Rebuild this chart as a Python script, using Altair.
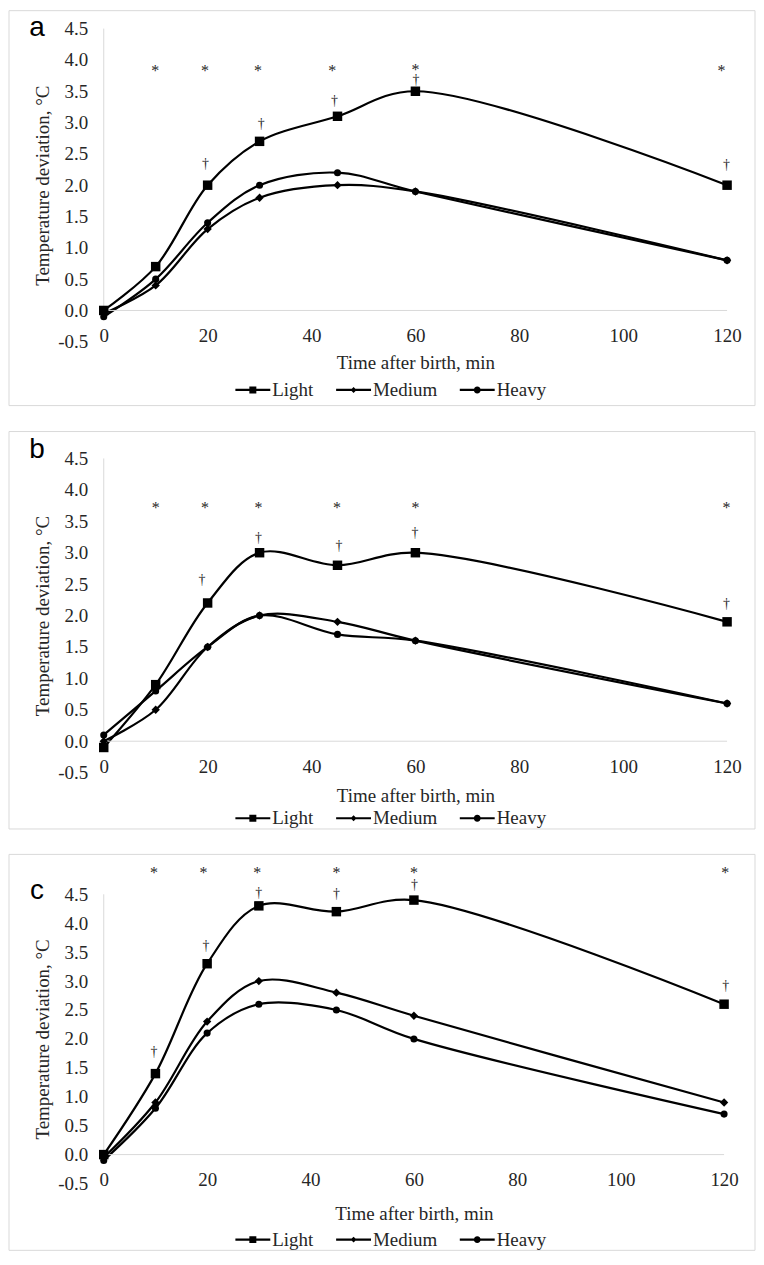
import altair as alt
import pandas as pd

# ---------------- data ----------------
times = [0, 10, 20, 30, 45, 60, 120]
groups = ["Light", "Medium", "Heavy"]

a_light = [0.0, 0.7, 2.0, 2.7, 3.1, 3.5, 2.0]
a_medium = [-0.05, 0.4, 1.3, 1.8, 2.0, 1.9, 0.8]
a_heavy = [-0.1, 0.5, 1.4, 2.0, 2.2, 1.9, 0.8]

b_light = [-0.1, 0.9, 2.2, 3.0, 2.8, 3.0, 1.9]
b_medium = [0.0, 0.5, 1.5, 2.0, 1.9, 1.6, 0.6]
b_heavy = [0.1, 0.8, 1.5, 2.0, 1.7, 1.6, 0.6]

c_light = [0.0, 1.4, 3.3, 4.3, 4.2, 4.4, 2.6]
c_medium = [-0.05, 0.9, 2.3, 3.0, 2.8, 2.4, 0.9]
c_heavy = [-0.1, 0.8, 2.1, 2.6, 2.5, 2.0, 0.7]

# significance marks (* and †): time and height
a_star_t = [9.9, 19.5, 29.7, 44.0, 60.0, 118.9]
a_star_v = [3.88, 3.88, 3.88, 3.88, 3.90, 3.88]
a_dag_t = [19.6, 30.3, 44.4, 60.1, 119.9]
a_dag_v = [2.34, 2.97, 3.34, 3.68, 2.32]

b_star_t = [10.0, 19.5, 29.8, 44.9, 60.0, 119.9]
b_star_v = [3.77, 3.77, 3.77, 3.77, 3.77, 3.77]
b_dag_t = [18.9, 29.8, 45.3, 59.9, 119.9]
b_dag_v = [2.56, 3.24, 3.10, 3.31, 2.19]

c_star_t = [9.7, 19.3, 29.7, 45.0, 60.0, 120.2]
c_star_v = [4.93, 4.93, 4.93, 4.93, 4.93, 4.93]
c_dag_t = [9.7, 19.8, 30.0, 45.0, 60.1, 120.3]
c_dag_v = [1.78, 3.61, 4.53, 4.50, 4.66, 2.92]

x_ticks = [0, 20, 40, 60, 80, 100, 120]
y_ticks = [-0.5, 0.0, 0.5, 1.0, 1.5, 2.0, 2.5, 3.0, 3.5, 4.0, 4.5]
x_domain = [0, 120]
y_domain = [-0.5, 4.5]

# ---------------- style ----------------
SERIF = "Liberation Serif"
SANS = "Liberation Sans"
TXT = "#262626"
GRID = "#d9d9d9"
FS = 19

marker_shapes = ["square", "diamond", "circle"]
marker_sizes = [90, 50, 85]
# legend symbols: a line segment with the marker on it
bar = "M-1.9,-0.21H5.1V0.21H-1.9Z"
legend_paths = [
    bar + "M0.9,-0.7H2.3V0.7H0.9Z",
    bar + "M1.6,-0.6L2.2,0L1.6,0.6L1.0,0Z",
    bar + "M0.9,0A0.7,0.7,0,1,1,2.3,0A0.7,0.7,0,1,1,0.9,0Z",
]


def panel(letter, light, medium, heavy, st_t, st_v, dg_t, dg_v, g):
    W, H = g["W"], g["H"]
    rows = []
    for name, vals in zip(groups, [light, medium, heavy]):
        for t, v in zip(times, vals):
            rows.append({"time": t, "value": v, "group": name})
    df = pd.DataFrame(rows)
    stars = pd.DataFrame({"time": st_t, "value": st_v})
    daggers = pd.DataFrame({"time": dg_t, "value": dg_v})
    one = pd.DataFrame({"k": [0]})

    xs = alt.Scale(domain=x_domain, nice=False, zero=False)
    ys = alt.Scale(domain=y_domain, nice=False, zero=False)

    xaxis = alt.Axis(
        values=x_ticks, title="Time after birth, min", offset=-H / 10.0,
        domain=False, ticks=False, grid=False, labelFlush=False,
        labelFont=SERIF, labelFontSize=FS, labelColor=TXT, labelPadding=16,
        titleFont=SERIF, titleFontSize=FS, titleFontWeight="normal",
        titleColor=TXT, titlePadding=g["tpad"],
    )
    yaxis = alt.Axis(
        values=y_ticks, title="Temperature deviation, °C",
        labelExpr="datum.value < 0 ? '-' + format(-datum.value, '.1f') : format(datum.value, '.1f')",
        domain=False, ticks=False, grid=False, labelFlush=False,
        labelFont=SERIF, labelFontSize=FS, labelColor=TXT, labelPadding=16,
        titleFont=SERIF, titleFontSize=FS, titleFontWeight="normal",
        titleColor=TXT, titlePadding=5,
    )

    def X(field):
        return alt.X(field, scale=xs, axis=xaxis)

    def Y(field):
        return alt.Y(field, scale=ys, axis=yaxis)

    frame = alt.Chart(one).mark_rect(
        fill="transparent", stroke=GRID, strokeWidth=1
    ).encode(
        x=alt.value(-95), x2=alt.value(g["fx2"]),
        y=alt.value(g["fy"]), y2=alt.value(g["fy2"]),
    )

    lines = alt.Chart(df).mark_line(
        interpolate="catmull-rom", color="black", strokeWidth=2.2
    ).encode(x=X("time:Q"), y=Y("value:Q"), detail="group:N")

    hline = alt.Chart(one).mark_rule(color=GRID, strokeWidth=1).encode(
        x=alt.XDatum(x_domain[0], scale=xs, axis=xaxis),
        x2=alt.X2Datum(x_domain[1]),
        y=alt.YDatum(0, scale=ys, axis=yaxis),
    )
    vline = alt.Chart(one).mark_rule(color=GRID, strokeWidth=1).encode(
        x=alt.XDatum(0, scale=xs, axis=xaxis),
        y=alt.YDatum(0, scale=ys, axis=yaxis),
        y2=alt.Y2Datum(y_domain[1]),
    )

    points = alt.Chart(df).mark_point(filled=True, color="black", opacity=1).encode(
        x=X("time:Q"), y=Y("value:Q"),
        shape=alt.Shape("group:N", scale=alt.Scale(domain=groups, range=marker_shapes), legend=None),
        size=alt.Size("group:O", scale=alt.Scale(domain=groups, range=marker_sizes), legend=None),
    )

    legend_layer = alt.Chart(df).mark_point(filled=True, color="black", opacity=0).encode(
        x=X("time:Q"), y=Y("value:Q"),
        shape=alt.Shape(
            "group:N",
            scale=alt.Scale(domain=groups, range=legend_paths),
            legend=alt.Legend(
                title=None, orient="none", direction="horizontal",
                legendX=132, legendY=g["ly"], padding=0,
                symbolSize=100, symbolFillColor="black", symbolStrokeColor="black",
                symbolStrokeWidth=0, symbolOpacity=1,
                labelFont=SERIF, labelFontSize=FS, labelColor=TXT,
                labelOffset=18, columnPadding=22,
            ),
        ),
    )

    star_text = alt.Chart(stars).mark_text(
        text="*", font=SERIF, fontSize=16, color=TXT, baseline="middle", dy=4
    ).encode(x=X("time:Q"), y=Y("value:Q"))
    dag_text = alt.Chart(daggers).mark_text(
        text="†", font=SERIF, fontSize=14, color=TXT, baseline="middle", dy=0
    ).encode(x=X("time:Q"), y=Y("value:Q"))

    label = alt.Chart(one).mark_text(
        text=letter, font=SANS, fontSize=28, color="black",
        align="center", baseline="alphabetic",
    ).encode(x=alt.value(-67), y=alt.value(g["lety"]))

    return alt.layer(
        frame, lines, hline, vline, points, legend_layer, star_text, dag_text, label
    ).resolve_scale(shape="independent", size="independent").properties(width=W, height=H)


ga = dict(W=625, H=314, fx2=653, fy=-18, fy2=378, lety=7, tpad=8, ly=352.5)
gb = dict(W=625, H=315, fx2=653, fy=-27, fy2=371.5, lety=0, tpad=10, ly=351)
gc = dict(W=622, H=290, fx2=653, fy=-40, fy2=357, lety=5, tpad=15, ly=336.5)

pa = panel("a", a_light, a_medium, a_heavy, a_star_t, a_star_v, a_dag_t, a_dag_v, ga)
pb = panel("b", b_light, b_medium, b_heavy, b_star_t, b_star_v, b_dag_t, b_dag_v, gb)
pc = panel("c", c_light, c_medium, c_heavy, c_star_t, c_star_v, c_dag_t, c_dag_v, gc)

chart = alt.vconcat(pa, pb, pc, spacing=24).resolve_scale(
    x="independent", y="independent", shape="independent", size="independent"
).resolve_legend(shape="independent").properties(
    padding=0, background="white"
).configure_view(strokeWidth=0)

chart.save("out.html", embed_options={"renderer": "svg", "actions": False})
